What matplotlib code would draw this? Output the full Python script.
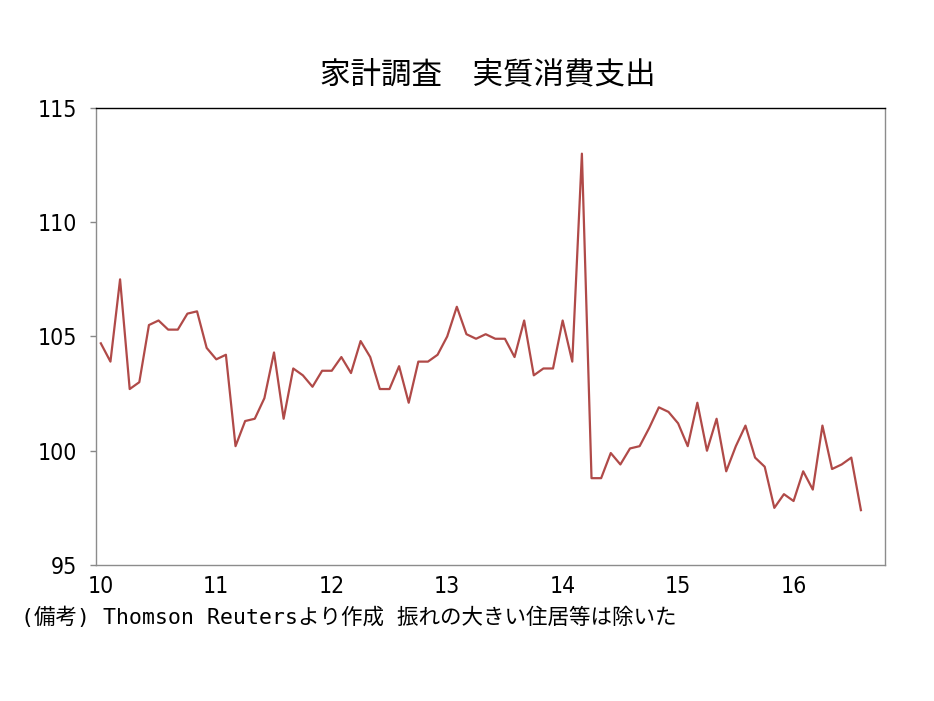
import matplotlib
matplotlib.use("Agg")
import matplotlib.pyplot as plt
import numpy as np

# monthly index values, 2010-01 .. 2016-08
spending = [
    104.7, 103.9, 107.5, 102.7, 103.0, 105.5, 105.7, 105.3, 105.3, 106.0, 106.1, 104.5,
    104.0, 104.2, 100.2, 101.3, 101.4, 102.3, 104.3, 101.4, 103.6, 103.3, 102.8, 103.5,
    103.5, 104.1, 103.4, 104.8, 104.1, 102.7, 102.7, 103.7, 102.1, 103.9, 103.9, 104.2,
    105.0, 106.3, 105.1, 104.9, 105.1, 104.9, 104.9, 104.1, 105.7, 103.3, 103.6, 103.6,
    105.7, 103.9, 113.0, 98.8, 98.8, 99.9, 99.4, 100.1, 100.2, 101.0, 101.9, 101.7,
    101.2, 100.2, 102.1, 100.0, 101.4, 99.1, 100.2, 101.1, 99.7, 99.3, 97.5, 98.1,
    97.8, 99.1, 98.3, 101.1, 99.2, 99.4, 99.7, 97.4,
]
year_labels = ['10', '11', '12', '13', '14', '15', '16']
y_ticks = [95, 100, 105, 110, 115]

title = '家計調査\u3000実質消費支出'
note = '(備考) Thomson Reutersより作成 振れの大きい住居等は除いた'

jp_font = ['Noto Sans CJK JP', 'DejaVu Sans']
note_font = ['DejaVu Sans Mono', 'Noto Sans CJK JP']

fig = plt.figure(figsize=(9.34, 7.01), dpi=100)
ax = fig.add_axes([0.1028, 0.194, 0.8447, 0.652])

months = np.arange(len(spending))
ax.plot(months, spending, color='#b04a48', linewidth=1.6)

ax.set_xlim(-0.5, 81.5)
ax.set_ylim(95, 115)
ax.set_yticks(y_ticks)
ax.set_yticklabels([str(v) for v in y_ticks], family='DejaVu Sans',
                   stretch='condensed', fontsize=16.5)
ax.set_xticks(np.arange(len(year_labels)) * 12)
ax.set_xticklabels(year_labels, family='DejaVu Sans', stretch='condensed', fontsize=16.5)
ax.tick_params(axis='y', direction='out', length=4.5, width=1, color='#888888', pad=9)
ax.tick_params(axis='x', length=0, pad=7)

for side in ['left', 'right', 'bottom']:
    ax.spines[side].set_color('#8c8c8c')
    ax.spines[side].set_linewidth(1)
ax.spines['top'].set_color('black')
ax.spines['top'].set_linewidth(1)

fig.text(0.522, 0.893, title, family=jp_font, fontsize=22, ha='center', va='center')
fig.text(0.022, 0.12, note, family=note_font, fontsize=15.5, ha='left', va='center')

fig.savefig('out.png', dpi=100, facecolor='white')
